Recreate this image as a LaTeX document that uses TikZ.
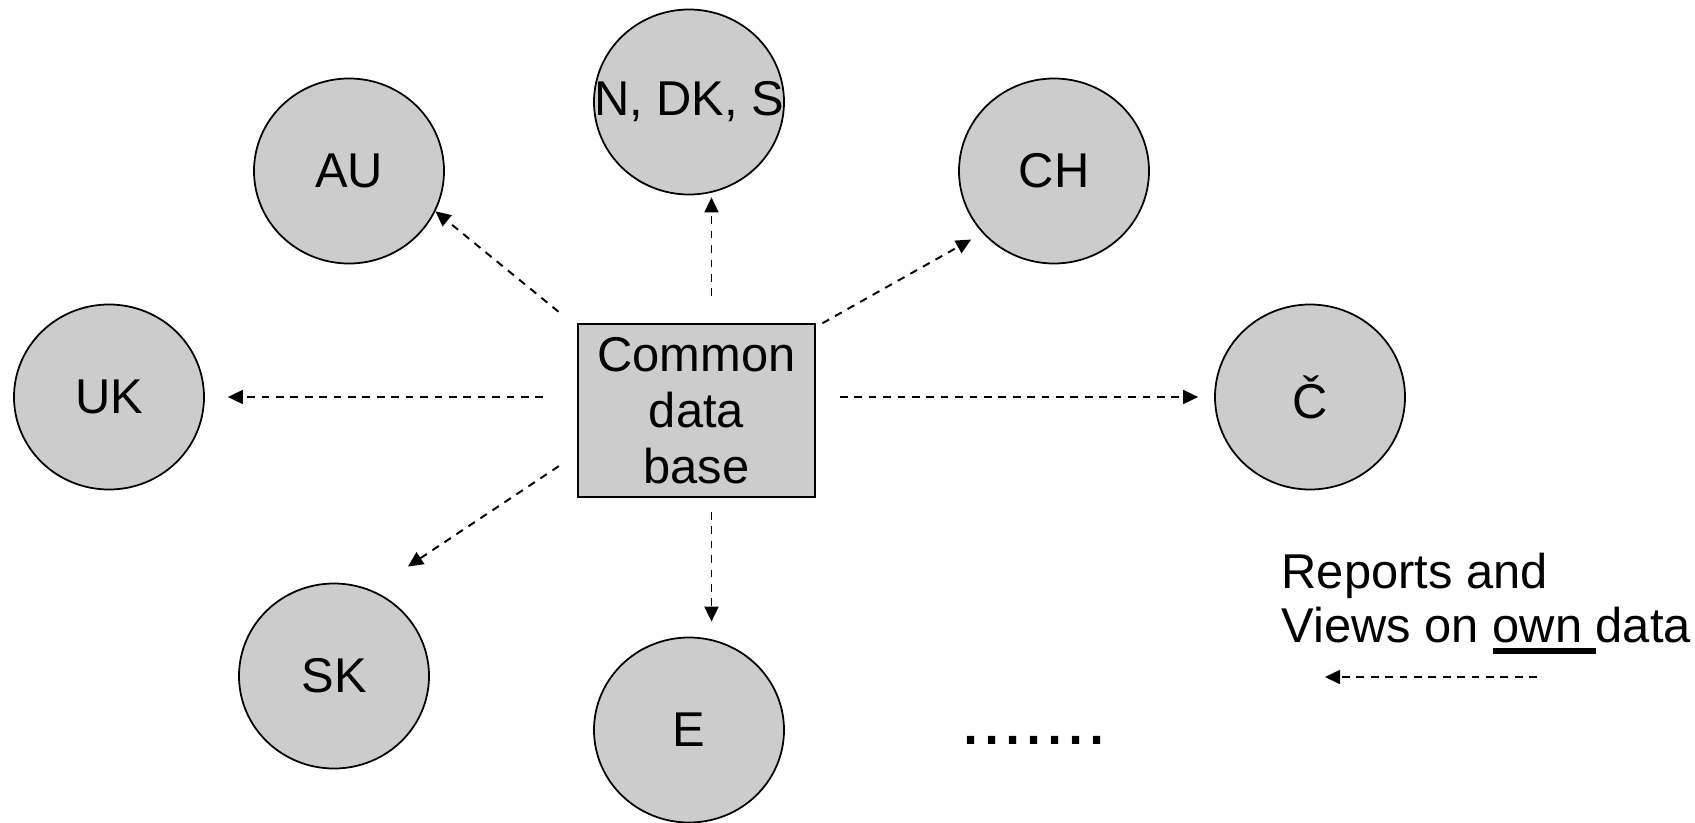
\documentclass[tikz,border=0pt]{standalone}
\usepackage{fontspec}
\setmainfont{Liberation Sans}
\usepackage{tikz}
\usetikzlibrary{shapes.geometric,arrows.meta}
\definecolor{dbgray}{RGB}{204,204,204}
\newcommand{\thickul}[1]{\setbox0=\hbox{#1}\rlap{\rule[-3.4pt]{\wd0}{1.7pt}}\box0}

\begin{document}
\begin{tikzpicture}[
    country/.style={ellipse, draw, line width=0.5pt, fill=dbgray, minimum width=1.90cm, minimum height=1.85cm, inner sep=0pt, font=\fontsize{13.9}{16}\selectfont},
    dbbox/.style={rectangle, draw, line width=0.5pt, fill=dbgray, minimum width=2.37cm, minimum height=1.73cm, inner sep=0pt, align=center, font=\fontsize{13.9}{15.9}\selectfont},
    flow/.style={-{Triangle[length=4.3pt,width=4pt]}, line width=0.55pt, dash pattern=on 2.2pt off 1.9pt}
]
    \useasboundingbox (0,0) rectangle (16.95,8.22);

    % Data base
    \node[dbbox] (db) at (6.965,4.115) {Common\\data\\base};

    % Countries
    \node[country] (n) at (6.89,7.20) {\makebox[0pt]{N, DK, S}};
    \node[country] (au) at (3.49,6.51) {AU};
    \node[country] (ch) at (10.54,6.51) {CH};
    \node[country] (uk) at (1.09,4.25) {UK};
    \node[country] (cz) at (13.10,4.25) {Č};
    \node[country] (sk) at (3.34,1.46) {SK};
    \node[country] (e) at (6.89,0.92) {E};

    % Arrows
    \draw[flow, shorten <=0.24cm] (db.145) -- (au.335);
    \draw[flow, shorten <=0.27cm, shorten >=0.02cm] ([xshift=1.5mm]db.north) -- ([xshift=1.5mm]db.north |- n.south);
    \draw[flow, shorten <=0.075cm, shorten >=0.13cm] (db.35) -- (ch.221);
    \draw[flow, shorten <=0.34cm, shorten >=0.23cm] (db.west |- uk.east) -- (uk.east);
    \draw[flow, shorten <=0.24cm, shorten >=0.16cm] (db.east |- cz.west) -- (cz.west);
    \draw[flow, shorten <=0.22cm, shorten >=0.43cm] (db.200) -- (sk.66);
    \draw[flow, shorten <=0.14cm, shorten >=0.15cm] ([xshift=1.5mm]db.south) -- ([xshift=1.5mm]db.south |- e.north);

    % Dots
    \node[anchor=base, inner sep=0pt, font=\fontsize{21.6}{24}\selectfont] (more) at (10.34,0.775) {.......};

    % Legend
    \node[anchor=north west, inner sep=0pt, align=left, font=\fontsize{13.9}{15.4}\selectfont] (key) at (12.81,2.70) {Reports and\\Views on \thickul{own\ }data};
    \coordinate (keyend) at (15.37,1.45);
    \coordinate (keytip) at (13.25,1.45);
    \draw[flow] (keyend) -- (keytip);
\end{tikzpicture}
\end{document}
